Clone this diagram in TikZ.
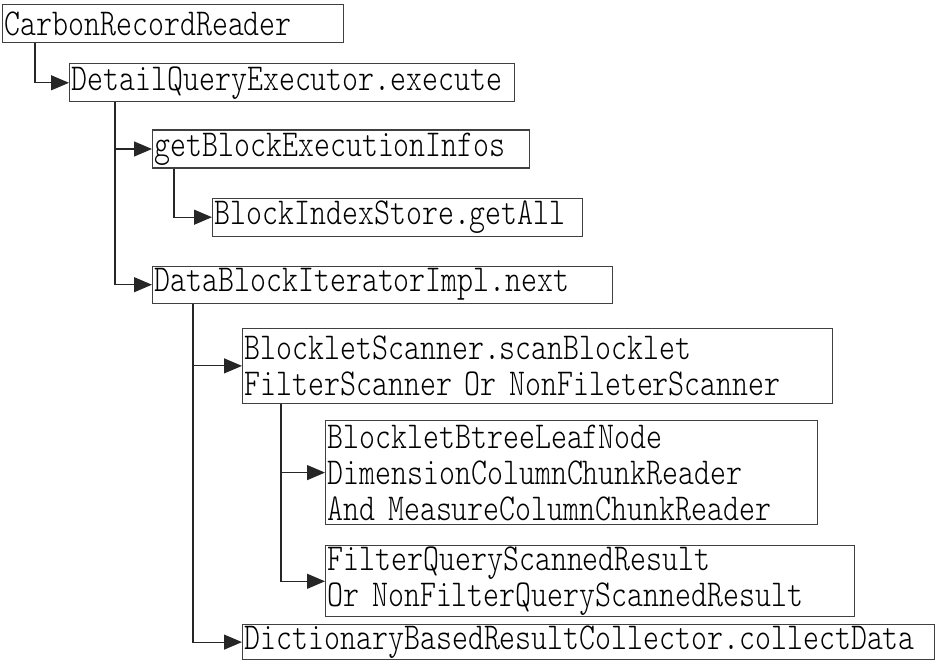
\documentclass[tikz,border=0pt]{standalone}
\usepackage{fontspec}
\setmonofont[FakeStretch=0.8]{Latin Modern Mono Light}
\usetikzlibrary{arrows.meta, positioning}

\begin{document}
\begin{tikzpicture}[font=\ttfamily\fontsize{38pt}{36pt}\selectfont,
    box/.style={draw=black!75,line width=1.2pt,inner xsep=2pt,inner ysep=0pt,align=left,anchor=north west},
    arr/.style={-{Triangle[length=18pt,width=15pt]},line width=1.2pt,draw=black!85}]
    \useasboundingbox (0,0) rectangle (938pt,-663pt);
    \node[box,text width=337pt,minimum height=38pt] (crr) at (2pt,-4pt) {CarbonRecordReader};
    \node[box,text width=441pt,minimum height=38pt,below right=20pt and 67pt of crr.south west] (dqe) {DetailQueryExecutor.execute};
    \node[box,text width=373pt,minimum height=38pt,below right=27pt and 83pt of dqe.south west] (gbei) {getBlockExecutionInfos};
    \node[box,text width=366pt,minimum height=38pt,below right=29pt and 60pt of gbei.south west] (bis) {BlockIndexStore.getAll};
    \node[box,text width=456pt,minimum height=37pt,below right=97pt and 0pt of gbei.south west] (dbi) {DataBlockIteratorImpl.next};
    \node[box,text width=586pt,minimum height=75pt,below right=24pt and 90pt of dbi.south west] (bsc) {BlockletScanner.scanBlocklet\\FilterScanner Or NonFileterScanner};
    \node[box,text width=488pt,minimum height=104pt,below right=16pt and 83pt of bsc.south west] (bbl) {BlockletBtreeLeafNode\\DimensionColumnChunkReader\\And MeasureColumnChunkReader};
    \node[box,text width=525pt,minimum height=71pt,below right=20pt and 0pt of bbl.south west] (fqs) {FilterQueryScannedResult\\Or NonFilterQueryScannedResult};
    \node[box,text width=688pt,minimum height=35pt,below right=220pt and 0pt of bsc.south west] (dbrc) {DictionaryBasedResultCollector.collectData};
    \draw[arr] ([xshift=33pt]crr.south west) |- (dqe.west);
    \draw[arr] ([xshift=46pt]dqe.south west) |- (gbei.west);
    \draw[arr] ([xshift=46pt]dqe.south west) |- (dbi.west);
    \draw[arr] ([xshift=22pt]gbei.south west) |- (bis.west);
    \draw[arr] ([xshift=41pt]dbi.south west) |- (bsc.west);
    \draw[arr] ([xshift=41pt]dbi.south west) |- (dbrc.west);
    \draw[arr] ([xshift=39pt]bsc.south west) |- (bbl.west);
    \draw[arr] ([xshift=39pt]bsc.south west) |- (fqs.west);
  \end{tikzpicture}
\end{document}
